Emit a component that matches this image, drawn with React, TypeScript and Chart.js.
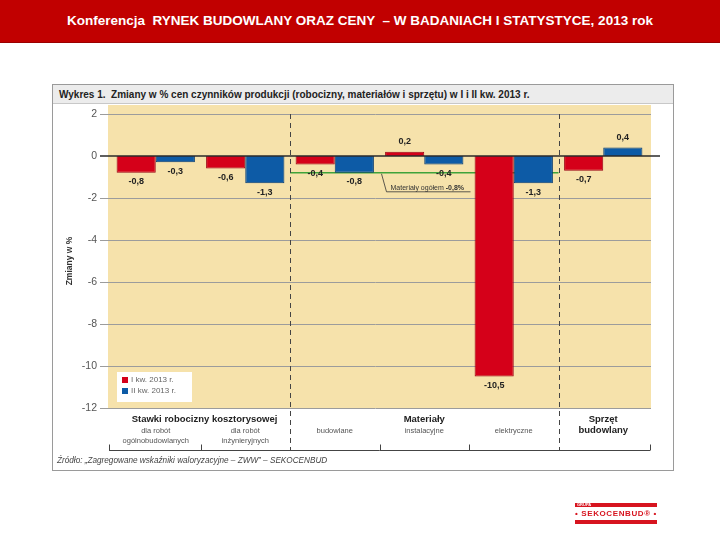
import React, { useEffect, useRef } from "react";
import { Chart, registerables } from "chart.js";

Chart.register(...registerables);

// ---- data ----
const categories = ["ogólnobudowlane", "inżynieryjne", "budowlane", "instalacyjne", "elektryczne", "sprzęt"];
const subLabels: string[][] = [
  ["dla robót", "ogólnobudowlanych"],
  ["dla robót", "inżynieryjnych"],
  ["budowlane"],
  ["instalacyjne"],
  ["elektryczne"],
  [],
];
const groupHeaders = [
  { lines: ["Stawki robocizny kosztorysowej"], from: 0, to: 1 },
  { lines: ["Materiały"], from: 2, to: 4 },
  { lines: ["Sprzęt", "budowlany"], from: 5, to: 5 },
];
const seriesNames = ["I kw. 2013 r.", "II kw. 2013 r."];
const q1Values = [-0.8, -0.6, -0.4, 0.2, -10.5, -0.7];
const q2Values = [-0.3, -1.3, -0.8, -0.4, -1.3, 0.4];
const yMin = -12;
const yMax = 2;
const yStep = 2;
const materialsTotal = -0.8;
const materialsTotalLabel = "Materiały ogółem ";
const materialsTotalValue = "-0,8%";
const headerText = "Konferencja  RYNEK BUDOWLANY ORAZ CENY  – W BADANIACH I STATYSTYCE, 2013 rok";
const chartTitle = "Wykres 1.  Zmiany w % cen czynników produkcji (robocizny, materiałów i sprzętu) w I i II kw. 2013 r.";
const yTitle = "Zmiany w %";
const sourceText = "Źródło: „Zagregowane wskaźniki waloryzacyjne – ZWW” – SEKOCENBUD";

const RED = "#d50019";
const BLUE = "#0d5ba6";
const FONT = "'Liberation Sans', Arial, sans-serif";

const fmt = (v: number) => v.toFixed(1).replace(".", ",");

const decorPlugin = {
  id: "decor",
  beforeDatasetsDraw(chart: any) {
    const { ctx, scales } = chart;
    const xs = scales.x;
    const ys = scales.y;
    const bx = (v: number) => (xs.getPixelForValue(v) + xs.getPixelForValue(v + 1)) / 2;
    ctx.save();
    // beige plot background
    ctx.fillStyle = "#f6e2ab";
    ctx.fillRect(xs.left - 3, 105, xs.right - xs.left + 6, ys.getPixelForValue(yMin) - 105);
    // grid lines
    ctx.strokeStyle = "#9c9c9c";
    ctx.lineWidth = 1;
    for (let v = yMin; v <= yMax; v += yStep) {
      if (v === 0) continue;
      const y = Math.round(ys.getPixelForValue(v)) + 0.5;
      ctx.beginPath();
      ctx.moveTo(xs.left - 11, y);
      ctx.lineTo(xs.right + 3, y);
      ctx.stroke();
    }
    // green total line for materials
    const gy = ys.getPixelForValue(materialsTotal);
    ctx.strokeStyle = "#3fa33a";
    ctx.lineWidth = 1.5;
    ctx.beginPath();
    ctx.moveTo(bx(1), gy);
    ctx.lineTo(bx(4), gy);
    ctx.stroke();
    // dashed separators
    ctx.strokeStyle = "#444";
    ctx.lineWidth = 1;
    ctx.setLineDash([5, 4]);
    [1, 4].forEach((b) => {
      const x = Math.round(bx(b)) + 0.5;
      ctx.beginPath();
      ctx.moveTo(x, ys.getPixelForValue(yMax));
      ctx.lineTo(x, 450);
      ctx.stroke();
    });
    ctx.setLineDash([]);
    ctx.restore();
  },
  afterDatasetsDraw(chart: any) {
    const { ctx, scales } = chart;
    const xs = scales.x;
    const ys = scales.y;
    const bx = (v: number) => (xs.getPixelForValue(v) + xs.getPixelForValue(v + 1)) / 2;
    ctx.save();
    // zero line
    const zy = ys.getPixelForValue(0);
    ctx.strokeStyle = "#2a2a2a";
    ctx.lineWidth = 1.5;
    ctx.beginPath();
    ctx.moveTo(xs.left - 11, zy);
    ctx.lineTo(xs.right + 12, zy);
    ctx.stroke();

    // data labels
    ctx.font = `bold 9px ${FONT}`;
    ctx.fillStyle = "#222";
    ctx.textAlign = "center";
    ctx.textBaseline = "middle";
    chart.data.datasets.forEach((ds: any, di: number) => {
      const meta = chart.getDatasetMeta(di);
      meta.data.forEach((el: any, i: number) => {
        const v = ds.data[i];
        const y = v < 0 ? el.y + 9 : el.y - 10;
        ctx.fillText(fmt(v), el.x, y);
      });
    });

    // annotation for materials total
    const gy = ys.getPixelForValue(materialsTotal);
    const ax = bx(2) + 2;
    ctx.strokeStyle = "#333";
    ctx.lineWidth = 0.8;
    ctx.beginPath();
    ctx.moveTo(ax, gy + 1);
    ctx.lineTo(ax + 5, gy + 19);
    ctx.lineTo(ax + 89, gy + 19);
    ctx.stroke();
    ctx.textAlign = "left";
    ctx.textBaseline = "alphabetic";
    ctx.font = `7px ${FONT}`;
    ctx.fillStyle = "#333";
    const tx = ax + 9;
    ctx.fillText(materialsTotalLabel, tx, gy + 17);
    const w = ctx.measureText(materialsTotalLabel).width;
    ctx.font = `bold 7px ${FONT}`;
    ctx.fillText(materialsTotalValue, tx + w, gy + 17);

    // legend
    const lx = xs.left + 6;
    const ly = 372;
    ctx.fillStyle = "#ffffff";
    ctx.fillRect(lx, ly, 75, 30);
    chart.data.datasets.forEach((ds: any, di: number) => {
      const yy = ly + 8 + di * 11;
      ctx.fillStyle = ds.backgroundColor;
      ctx.fillRect(lx + 5, yy - 3, 6, 6);
      ctx.fillStyle = "#666";
      ctx.font = `8px ${FONT}`;
      ctx.textBaseline = "middle";
      ctx.fillText(ds.label, lx + 14, yy);
    });

    // category labels
    ctx.textAlign = "center";
    ctx.textBaseline = "middle";
    groupHeaders.forEach((g) => {
      const cx = (xs.getPixelForValue(g.from) + xs.getPixelForValue(g.to)) / 2 + (g.from === 0 ? 4 : 0);
      ctx.font = `bold 9.5px ${FONT}`;
      ctx.fillStyle = "#222";
      g.lines.forEach((line, li) => ctx.fillText(line, cx, 419 + li * 11.5));
    });
    subLabels.forEach((lines, i) => {
      const cx = xs.getPixelForValue(i);
      ctx.font = `7.5px ${FONT}`;
      ctx.fillStyle = "#555";
      lines.forEach((line, li) => ctx.fillText(line, cx, 431 + li * 10));
    });

    // bracket below labels
    ctx.strokeStyle = "#444";
    ctx.lineWidth = 1;
    const by = 450.5;
    const left = xs.left - 2;
    const right = xs.right + 2;
    ctx.beginPath();
    ctx.moveTo(left, by);
    ctx.lineTo(right, by);
    [left, bx(0), bx(2), bx(3), right].forEach((x) => {
      const px = Math.round(x) + 0.5;
      ctx.moveTo(px, by);
      ctx.lineTo(px, by - 6);
    });
    ctx.stroke();

    // y axis title
    ctx.save();
    ctx.translate(70, (ys.top + ys.bottom) / 2);
    ctx.rotate(-Math.PI / 2);
    ctx.font = `bold 8.5px ${FONT}`;
    ctx.fillStyle = "#333";
    ctx.textAlign = "center";
    ctx.textBaseline = "middle";
    ctx.fillText(yTitle, 0, 0);
    ctx.restore();

    ctx.restore();
  },
};

export default function App() {
  const ref = useRef<HTMLCanvasElement>(null);

  useEffect(() => {
    if (!ref.current) return;
    const chart = new Chart(ref.current, {
      type: "bar",
      data: {
        labels: categories,
        datasets: [
          {
            label: seriesNames[0],
            data: q1Values,
            backgroundColor: RED,
            borderColor: "#9a0012",
            borderWidth: 1,
            categoryPercentage: 0.875,
            barPercentage: 1,
          },
          {
            label: seriesNames[1],
            data: q2Values,
            backgroundColor: BLUE,
            borderColor: "#083c72",
            borderWidth: 1,
            categoryPercentage: 0.875,
            barPercentage: 1,
          },
        ],
      },
      options: {
        responsive: false,
        animation: false,
        layout: { padding: { top: 114, bottom: 132, left: 0, right: 72 } },
        plugins: {
          legend: { display: false },
          tooltip: { enabled: false },
        },
        scales: {
          x: { display: false },
          y: {
            min: yMin,
            max: yMax,
            afterFit: (s: any) => {
              s.width = 111;
            },
            ticks: {
              stepSize: yStep,
              color: "#555",
              padding: 14,
              font: { family: FONT, size: 10.5 },
            },
            grid: { display: false, drawTicks: false },
            border: { display: false },
          },
        },
      },
      plugins: [decorPlugin],
    } as any);
    return () => chart.destroy();
  }, []);

  return (
    <div
      style={{
        position: "fixed",
        left: 0,
        top: 0,
        width: 720,
        height: 540,
        background: "#fff",
        overflow: "hidden",
        fontFamily: FONT,
      }}
    >
      <div
        style={{
          position: "absolute",
          left: 0,
          top: 0,
          width: 720,
          height: 42,
          background: "#c10000",
          borderBottom: "1px solid #9a0000",
          color: "#fff",
          fontWeight: "bold",
          fontSize: 13.5,
          lineHeight: "42px",
          textAlign: "center",
          whiteSpace: "pre",
        }}
      >
        {headerText}
      </div>
      <div
        style={{
          position: "absolute",
          left: 52,
          top: 84,
          width: 620,
          height: 385,
          border: "1px solid #9a9a9a",
          background: "#fff",
        }}
      >
        <div
          style={{
            position: "absolute",
            left: 0,
            top: 0,
            width: 620,
            height: 19,
            background: "#ececec",
            borderBottom: "1px solid #c8c8c8",
            color: "#222",
            fontWeight: "bold",
            fontSize: 10,
            lineHeight: "19px",
            paddingLeft: 6,
            boxSizing: "border-box",
            whiteSpace: "pre",
          }}
        >
          {chartTitle}
        </div>
      </div>
      <canvas
        ref={ref}
        width={720}
        height={540}
        style={{ position: "absolute", left: 0, top: 0, width: 720, height: 540 }}
      />
      <div
        style={{
          position: "absolute",
          left: 57,
          top: 456,
          fontSize: 8.2,
          fontStyle: "italic",
          color: "#444",
          whiteSpace: "pre",
        }}
      >
        {sourceText}
      </div>
      <div style={{ position: "absolute", left: 575, top: 503, width: 82, height: 21 }}>
        <div style={{ position: "absolute", left: 0, top: 0, width: 82, height: 4, background: "#d7141f" }} />
        <div
          style={{
            position: "absolute",
            left: 2,
            top: 0,
            height: 4,
            fontSize: 4,
            lineHeight: "4px",
            color: "#fff",
            fontWeight: "bold",
          }}
        >
          GRUPA
        </div>
        <div
          style={{
            position: "absolute",
            left: 0,
            top: 6,
            width: 82,
            height: 10,
            fontSize: 8,
            lineHeight: "10px",
            color: "#d7141f",
            fontWeight: "bold",
            textAlign: "center",
            letterSpacing: 0.6,
            whiteSpace: "pre",
          }}
        >
          {"• SEKOCENBUD® •"}
        </div>
        <div style={{ position: "absolute", left: 0, top: 17, width: 82, height: 4, background: "#d7141f" }} />
      </div>
    </div>
  );
}
